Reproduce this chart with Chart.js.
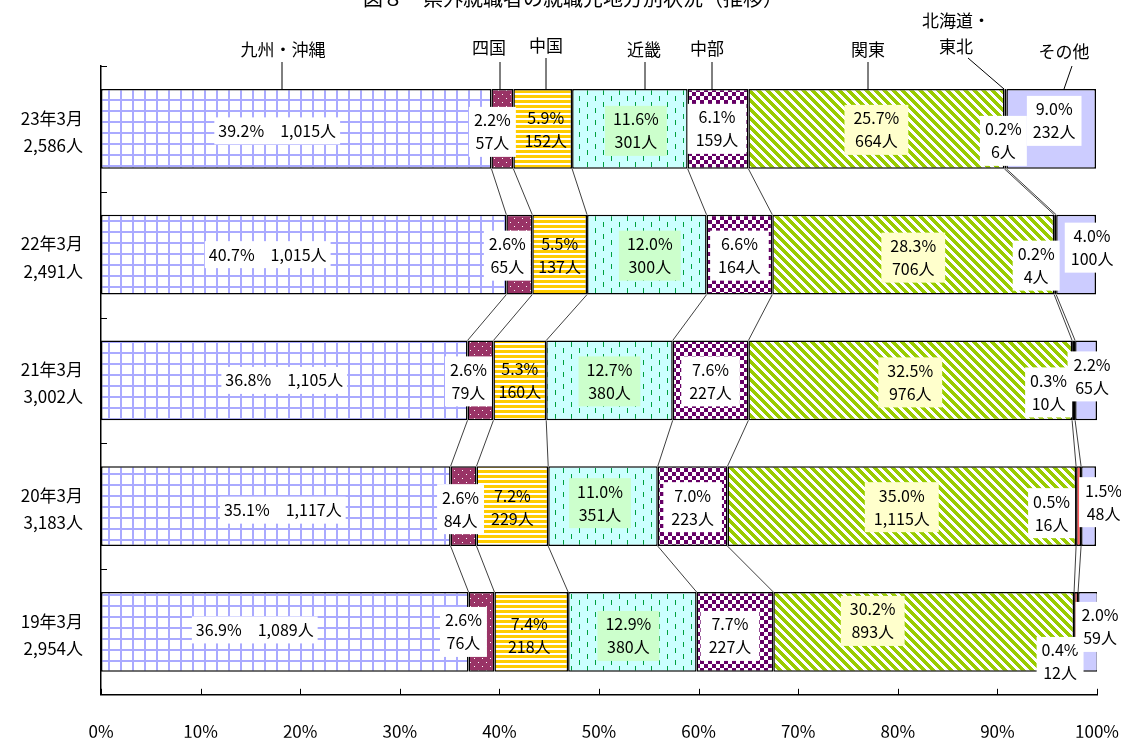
<!DOCTYPE html>
<html lang="ja">
<head>
<meta charset="utf-8">
<script src="https://cdn.jsdelivr.net/npm/chart.js@4.4.1/dist/chart.umd.min.js"></script>
<style>
  html, body { margin: 0; padding: 0; background: #fff; }
  #wrap { width: 1121px; height: 740px; position: relative; }
</style>
</head>
<body>
<div id="wrap"><canvas id="chart" width="1121" height="740"></canvas></div>
<script>
// Data
const categories = ['23年3月', '22年3月', '21年3月', '20年3月', '19年3月'];
const totals = [2586, 2491, 3002, 3183, 2954];
const regions = ['九州・沖縄', '四国', '中国', '近畿', '中部', '関東', '北海道・東北', 'その他'];

const kyushuPct = [39.2, 40.7, 36.8, 35.1, 36.9];
const shikokuPct = [2.2, 2.6, 2.6, 2.6, 2.6];
const chugokuPct = [5.9, 5.5, 5.3, 7.2, 7.4];
const kinkiPct = [11.6, 12.0, 12.7, 11.0, 12.9];
const chubuPct = [6.1, 6.6, 7.6, 7.0, 7.7];
const kantoPct = [25.7, 28.3, 32.5, 35.0, 30.2];
const hokkaidoPct = [0.2, 0.2, 0.3, 0.5, 0.4];
const otherPct = [9.0, 4.0, 2.2, 1.5, 2.0];

const kyushuNum = [1015, 1015, 1105, 1117, 1089];
const shikokuNum = [57, 65, 79, 84, 76];
const chugokuNum = [152, 137, 160, 229, 218];
const kinkiNum = [301, 300, 380, 351, 380];
const chubuNum = [159, 164, 227, 223, 227];
const kantoNum = [664, 706, 976, 1115, 893];
const hokkaidoNum = [6, 4, 10, 16, 12];
const otherNum = [232, 100, 65, 48, 59];

const xTicks = [0, 10, 20, 30, 40, 50, 60, 70, 80, 90, 100];

const pctSeries = [kyushuPct, shikokuPct, chugokuPct, kinkiPct, chubuPct, kantoPct, hokkaidoPct, otherPct];
const numSeries = [kyushuNum, shikokuNum, chugokuNum, kinkiNum, chubuNum, kantoNum, hokkaidoNum, otherNum];

const FONT = '"Noto Sans CJK JP", "Noto Sans", sans-serif';

const canvas = document.getElementById('chart');
const ctx = canvas.getContext('2d');

// small helper for tiled fills
function makePattern(w, h, draw) {
  const c = document.createElement('canvas');
  c.width = w; c.height = h;
  const g = c.getContext('2d');
  draw(g, w, h);
  return ctx.createPattern(c, 'repeat');
}

const fills = [
  // grid
  makePattern(12, 11, (g, w, h) => {
    g.fillStyle = '#fff'; g.fillRect(0, 0, w, h);
    g.fillStyle = '#aaaaff'; g.fillRect(0, 0, 2, h); g.fillRect(0, 0, w, 2);
  }),
  // dots
  makePattern(8, 8, (g, w, h) => {
    g.fillStyle = '#993366'; g.fillRect(0, 0, w, h);
    g.fillStyle = '#fff'; g.fillRect(2, 2, 1, 1); g.fillRect(6, 6, 1, 1);
  }),
  // horizontal stripes
  makePattern(4, 5, (g, w, h) => {
    g.fillStyle = '#fff'; g.fillRect(0, 0, w, h);
    g.fillStyle = '#ffcc00'; g.fillRect(0, 0, w, 3);
  }),
  // dashed verticals
  makePattern(16, 12, (g, w, h) => {
    g.fillStyle = '#ccffff'; g.fillRect(0, 0, w, h);
    g.fillStyle = '#00a040'; g.fillRect(3, 0, 1, 5); g.fillRect(11, 6, 1, 5);
  }),
  // checker
  makePattern(8, 8, (g, w, h) => {
    g.fillStyle = '#fff'; g.fillRect(0, 0, w, h);
    g.fillStyle = '#660066'; g.fillRect(0, 0, 4, 4); g.fillRect(4, 4, 4, 4);
  }),
  // diagonal
  makePattern(9, 9, (g, w, h) => {
    g.fillStyle = '#fff'; g.fillRect(0, 0, w, h);
    g.fillStyle = '#99cc00';
    for (let y = 0; y < h; y++) for (let x = 0; x < w; x++) {
      if (((x - y) % 9 + 9) % 9 < 5) g.fillRect(x, y, 1, 1);
    }
  }),
  '#ff5a5a',
  '#ccccff'
];

// label look per region
const boxColors = ['#fff', '#fff', null, '#ccffcc', '#fff', '#ffffcc', '#fff', '#fff'];
const boxPad = [4, 5, 4, 8, 8, 9, 5, 6];
// label nudges [dx, dy] per region, per row
const nudges = [
  [[-19, 2], [-36, 0], [0, 0], [7, 4], [-30, -2]],
  [[-10, 3], [-12, 1], [-12, 1], [-3, 3], [-18, 0]],
  [[3, 1], [0, 1], [0, 0], [0, 1], [-2, 4]],
  [[6, 2], [3, 1], [0, 1], [-3, -3], [-4, 4]],
  [[-1, 0], [0, 1], [0, 1], [0, 1], [-5, 4]],
  [[0, 1], [0, 3], [0, 2], [0, 1], [-51, -11]],
  [[-2, 12], [-19, 11], [-25, 12], [-27, 7], [-16, 30]],
  [[3, -8], [16, -7], [6, -4], [15, -4], [12, -5]]
];

// region names above the top bar: [text lines, x, y, leader from, leader to]
const regionTags = [
  { lines: ['九州・沖縄'], x: 283, y: 50, lx1: 282, ly1: 62, lx2: 282, ly2: 89 },
  { lines: ['四国'], x: 489, y: 48, lx1: 500, ly1: 62, lx2: 500, ly2: 89 },
  { lines: ['中国'], x: 546, y: 46, lx1: 546, ly1: 58, lx2: 546, ly2: 89 },
  { lines: ['近畿'], x: 644, y: 50, lx1: 645, ly1: 62, lx2: 645, ly2: 89 },
  { lines: ['中部'], x: 707, y: 49, lx1: 712, ly1: 62, lx2: 712, ly2: 89 },
  { lines: ['関東'], x: 868, y: 50, lx1: 868, ly1: 62, lx2: 868, ly2: 89 },
  { lines: ['北海道・', '東北'], x: 956, y: 21, lx1: 968, ly1: 58, lx2: 1004, ly2: 89 },
  { lines: ['その他'], x: 1064, y: 52, lx1: 1072, ly1: 66, lx2: 1064, ly2: 89 }
];

function fmt(n) { return n.toLocaleString('en-US'); }

const datasets = regions.map((name, i) => ({
  label: name,
  data: pctSeries[i],
  backgroundColor: fills[i],
  borderColor: '#000',
  borderWidth: 1.5,
  borderSkipped: false,
  barPercentage: 0.635,
  categoryPercentage: 1.0
}));

const decorPlugin = {
  id: 'decor',
  beforeDraw(chart) {
    const c = chart.ctx;
    c.save();
    c.fillStyle = '#fff';
    c.fillRect(0, 0, chart.width, chart.height);
    // title, partly off the top edge like the source
    c.fillStyle = '#000';
    c.font = '20px ' + FONT;
    c.textAlign = 'center';
    c.textBaseline = 'middle';
    c.fillText('図８　県外就職者の就職先地方別状況（推移）', 573, -2);
    c.restore();
  },
  afterDatasetsDraw(chart) {
    const c = chart.ctx;
    const area = chart.chartArea;
    const metas = chart.data.datasets.map((d, i) => chart.getDatasetMeta(i));
    c.save();

    // series lines between bars
    c.strokeStyle = '#404040';
    c.lineWidth = 1;
    for (let j = 0; j < categories.length - 1; j++) {
      for (let i = 0; i < regions.length - 1; i++) {
        const a = metas[i].data[j], b = metas[i].data[j + 1];
        c.beginPath();
        c.moveTo(a.x, a.y + a.height / 2);
        c.lineTo(b.x, b.y - b.height / 2);
        c.stroke();
      }
    }

    // inside tick marks
    c.strokeStyle = '#000';
    const xs = chart.scales.x;
    xTicks.forEach(v => {
      const px = Math.round(xs.getPixelForValue(v)) + 0.5;
      c.beginPath(); c.moveTo(px, area.bottom); c.lineTo(px, area.bottom - 6); c.stroke();
    });
    const step = (area.bottom - area.top) / categories.length;
    for (let k = 0; k < categories.length; k++) {
      const py = Math.round(area.top + step * k) + 0.5;
      c.beginPath(); c.moveTo(area.left, py); c.lineTo(area.left + 6, py); c.stroke();
    }

    // value labels
    c.font = '16px ' + FONT;
    c.textAlign = 'center';
    c.textBaseline = 'middle';
    const lh = 23;
    for (let i = 0; i < regions.length; i++) {
      for (let j = 0; j < categories.length; j++) {
        const el = metas[i].data[j];
        const cx = (el.x + el.base) / 2 + nudges[i][j][0];
        const cy = el.y + nudges[i][j][1];
        const pct = pctSeries[i][j].toFixed(1) + '%';
        const num = fmt(numSeries[i][j]) + '人';
        const lines = i === 0 ? [pct + '　' + num] : [pct, num];
        const w = Math.max(...lines.map(t => c.measureText(t).width));
        const h = lines.length * lh;
        if (boxColors[i]) {
          c.fillStyle = boxColors[i];
          c.fillRect(cx - w / 2 - boxPad[i], cy - h / 2 - 2, w + boxPad[i] * 2, h + 4);
        }
        c.fillStyle = '#000';
        lines.forEach((t, k) => c.fillText(t, cx, cy - h / 2 + lh / 2 + k * lh));
      }
    }

    // region names and leaders
    c.font = '17px ' + FONT;
    c.strokeStyle = '#000';
    regionTags.forEach(t => {
      t.lines.forEach((s, k) => c.fillText(s, t.x, t.y + k * 26));
      c.beginPath(); c.moveTo(t.lx1, t.ly1); c.lineTo(t.lx2, t.ly2); c.stroke();
    });
    c.restore();
  }
};

new Chart(ctx, {
  type: 'bar',
  data: {
    labels: categories.map((c, i) => [c, fmt(totals[i]) + '人']),
    datasets: datasets
  },
  options: {
    indexAxis: 'y',
    responsive: false,
    animation: false,
    layout: { padding: { left: 0, top: 66, right: 24, bottom: 0 } },
    plugins: {
      legend: { display: false },
      tooltip: { enabled: false }
    },
    scales: {
      x: {
        stacked: true,
        min: 0,
        max: 100,
        afterBuildTicks: s => { s.ticks = xTicks.map(v => ({ value: v })); },
        afterFit: s => { s.height = 43; s.paddingLeft = 0; s.paddingRight = 0; },
        grid: { display: false, drawTicks: false },
        border: { display: true, color: '#000', width: 1.5 },
        ticks: {
          padding: 27,
          color: '#000',
          font: { family: FONT, size: 17 },
          callback: v => v + '%',
          maxRotation: 0
        }
      },
      y: {
        stacked: true,
        afterFit: s => { s.width = 101; },
        grid: { display: false, drawTicks: false },
        border: { display: true, color: '#000', width: 1.5 },
        ticks: {
          padding: 18,
          labelOffset: 3,
          color: '#000',
          font: { family: FONT, size: 17, lineHeight: 1.6 }
        }
      }
    }
  },
  plugins: [decorPlugin]
});
</script>
</body>
</html>
